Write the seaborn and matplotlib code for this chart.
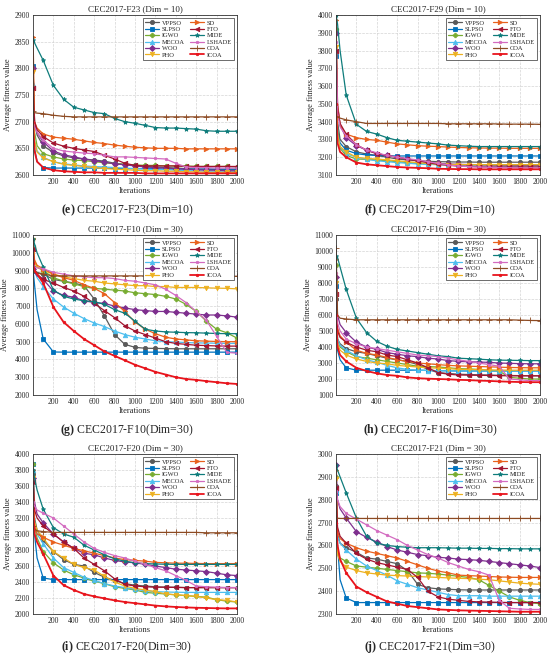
import numpy as np
import pandas as pd
import matplotlib
matplotlib.use("Agg")
import matplotlib.pyplot as plt
import seaborn as sns

# iterations at which the curves are sampled
ITERS = [1, 15, 40] + list(range(100, 2001, 100))

ALGOS = ["VPPSO", "SLPSO", "IGWO", "MECOA", "WOO", "PHO",
         "SD", "FTO", "MIDE", "LSHADE", "COA", "ICOA"]

# rows follow ALGOS order
F23_D10 = [
    [2800, 2700, 2675, 2655, 2642, 2636, 2632, 2630, 2628, 2626, 2622, 2620, 2618, 2616, 2615, 2614, 2613, 2612, 2611, 2611, 2610, 2610, 2610],
    [2805, 2650, 2625, 2614, 2613, 2613, 2613, 2613, 2613, 2613, 2612, 2612, 2612, 2612, 2612, 2611, 2611, 2611, 2611, 2611, 2611, 2611, 2611],
    [2800, 2680, 2655, 2640, 2634, 2630, 2628, 2627, 2625, 2623, 2621, 2620, 2619, 2618, 2618, 2617, 2617, 2617, 2616, 2616, 2616, 2616, 2615],
    [2770, 2665, 2645, 2633, 2625, 2621, 2619, 2617, 2616, 2615, 2614, 2613, 2612, 2611, 2610, 2610, 2609, 2608, 2608, 2607, 2607, 2607, 2606],
    [2800, 2700, 2680, 2662, 2645, 2638, 2634, 2630, 2627, 2624, 2621, 2619, 2617, 2615, 2614, 2613, 2612, 2611, 2610, 2609, 2609, 2608, 2608],
    [2793, 2665, 2643, 2632, 2625, 2620, 2618, 2616, 2614, 2612, 2611, 2610, 2609, 2608, 2608, 2607, 2607, 2606, 2606, 2605, 2605, 2605, 2605],
    [2858, 2700, 2688, 2677, 2671, 2669, 2667, 2664, 2661, 2659, 2656, 2654, 2652, 2651, 2650, 2650, 2650, 2649, 2649, 2649, 2649, 2649, 2649],
    [2763, 2700, 2685, 2672, 2660, 2654, 2650, 2647, 2644, 2637, 2630, 2622, 2618, 2617, 2617, 2617, 2617, 2616, 2616, 2616, 2616, 2616, 2616],
    [2853, 2848, 2838, 2815, 2768, 2742, 2727, 2722, 2717, 2715, 2706, 2700, 2697, 2693, 2689, 2688, 2688, 2687, 2686, 2683, 2682, 2682, 2682],
    [2700, 2690, 2680, 2665, 2650, 2645, 2643, 2641, 2640, 2637, 2634, 2634, 2633, 2632, 2631, 2630, 2622, 2615, 2614, 2614, 2613, 2613, 2613],
    [2720, 2717, 2716, 2715, 2712, 2710, 2709, 2709, 2709, 2709, 2709, 2709, 2709, 2709, 2709, 2709, 2709, 2709, 2709, 2709, 2709, 2709, 2709],
    [2700, 2645, 2625, 2614, 2609, 2607, 2606, 2605, 2605, 2604, 2604, 2604, 2604, 2603, 2603, 2603, 2603, 2603, 2603, 2603, 2603, 2603, 2603],
]

F29_D10 = [
    [3800, 3400, 3300, 3260, 3230, 3218, 3210, 3200, 3190, 3185, 3180, 3177, 3175, 3174, 3173, 3173, 3172, 3172, 3172, 3172, 3172, 3172, 3172],
    [3770, 3350, 3280, 3240, 3220, 3213, 3210, 3208, 3207, 3207, 3207, 3207, 3207, 3207, 3207, 3207, 3207, 3207, 3207, 3207, 3207, 3207, 3207],
    [3920, 3350, 3250, 3210, 3190, 3188, 3185, 3180, 3175, 3170, 3165, 3162, 3160, 3158, 3157, 3156, 3156, 3155, 3155, 3155, 3155, 3155, 3155],
    [3810, 3330, 3260, 3220, 3200, 3188, 3180, 3175, 3170, 3166, 3162, 3160, 3158, 3156, 3155, 3154, 3153, 3152, 3151, 3150, 3150, 3150, 3150],
    [3900, 3500, 3380, 3310, 3265, 3240, 3220, 3210, 3200, 3190, 3180, 3172, 3165, 3162, 3160, 3159, 3158, 3157, 3156, 3156, 3155, 3155, 3155],
    [3820, 3330, 3260, 3230, 3200, 3193, 3190, 3185, 3180, 3175, 3170, 3165, 3160, 3159, 3159, 3158, 3158, 3158, 3158, 3158, 3158, 3158, 3158],
    [3970, 3500, 3380, 3330, 3310, 3300, 3295, 3285, 3275, 3270, 3265, 3262, 3260, 3257, 3255, 3253, 3252, 3251, 3251, 3250, 3250, 3250, 3250],
    [3800, 3480, 3390, 3330, 3270, 3240, 3220, 3210, 3200, 3190, 3180, 3170, 3160, 3155, 3150, 3148, 3146, 3145, 3145, 3145, 3145, 3145, 3145],
    [4000, 3950, 3800, 3550, 3385, 3345, 3330, 3310, 3295, 3290, 3285, 3280, 3275, 3268, 3265, 3262, 3260, 3260, 3260, 3260, 3260, 3260, 3260],
    [3850, 3450, 3370, 3320, 3270, 3240, 3225, 3210, 3200, 3192, 3185, 3175, 3165, 3157, 3150, 3147, 3145, 3143, 3142, 3141, 3140, 3140, 3140],
    [3430, 3425, 3420, 3410, 3400, 3390, 3390, 3390, 3390, 3390, 3390, 3390, 3390, 3388, 3388, 3388, 3388, 3388, 3387, 3386, 3386, 3386, 3385],
    [3500, 3280, 3230, 3200, 3170, 3160, 3155, 3150, 3145, 3142, 3140, 3138, 3135, 3134, 3133, 3133, 3132, 3132, 3132, 3132, 3132, 3132, 3132],
]

F10_D30 = [
    [9200, 9000, 8900, 8800, 8500, 8400, 8300, 8150, 7400, 6450, 5400, 4850, 4680, 4630, 4620, 4610, 4600, 4600, 4600, 4600, 4600, 4600, 4600],
    [9000, 8200, 6800, 5150, 4420, 4410, 4410, 4410, 4410, 4410, 4410, 4410, 4410, 4410, 4410, 4410, 4410, 4410, 4410, 4410, 4410, 4410, 4410],
    [10400, 9500, 9200, 9000, 8600, 8400, 8250, 8100, 8000, 7950, 7900, 7850, 7750, 7700, 7650, 7550, 7400, 7100, 6700, 6150, 5700, 5500, 5200],
    [10500, 9000, 8600, 8100, 7400, 6950, 6600, 6300, 6050, 5850, 5600, 5400, 5250, 5150, 5050, 5000, 4980, 4950, 4930, 4920, 4910, 4900, 4900],
    [9100, 8900, 8700, 8500, 7850, 7600, 7500, 7300, 7200, 7150, 7000, 6900, 6800, 6750, 6700, 6700, 6650, 6600, 6550, 6500, 6500, 6450, 6380],
    [10700, 9500, 9200, 9000, 8800, 8650, 8550, 8450, 8400, 8300, 8250, 8200, 8150, 8150, 8100, 8100, 8050, 8050, 8050, 8030, 8010, 8000, 7970],
    [10800, 9600, 9300, 9100, 8800, 8600, 8450, 8200, 8000, 7700, 7200, 6700, 6100, 5700, 5450, 5250, 5150, 5100, 5050, 5030, 5010, 5000, 5000],
    [10200, 9000, 8800, 8500, 8300, 8050, 7850, 7550, 7150, 6750, 6350, 5900, 5600, 5400, 5200, 5000, 4900, 4850, 4800, 4780, 4760, 4750, 4750],
    [10800, 10500, 10000, 9200, 7900, 7550, 7400, 7300, 7250, 7100, 6800, 6600, 6150, 5700, 5600, 5550, 5530, 5510, 5500, 5480, 5460, 5450, 5450],
    [9300, 9200, 9150, 9100, 8900, 8800, 8700, 8650, 8600, 8600, 8550, 8450, 8400, 8300, 8200, 7950, 7600, 7200, 6700, 6200, 5300, 4400, 4350],
    [9000, 8900, 8850, 8800, 8700, 8700, 8700, 8700, 8700, 8700, 8700, 8700, 8700, 8700, 8700, 8700, 8700, 8700, 8690, 8690, 8680, 8680, 8680],
    [9400, 9000, 8800, 8300, 6950, 6100, 5600, 5150, 4800, 4450, 4200, 3950, 3700, 3500, 3300, 3150, 3000, 2900, 2850, 2780, 2720, 2660, 2620],
]

F16_D30 = [
    [7000, 4500, 4200, 3900, 3700, 3600, 3450, 3300, 3200, 3100, 2900, 2600, 2400, 2350, 2300, 2280, 2260, 2250, 2230, 2220, 2210, 2200, 2200],
    [7800, 3800, 3200, 2700, 2550, 2550, 2550, 2550, 2550, 2550, 2550, 2540, 2520, 2510, 2500, 2500, 2500, 2500, 2500, 2500, 2500, 2500, 2500],
    [9100, 4500, 4000, 3700, 3400, 3300, 3200, 3100, 3000, 2900, 2800, 2780, 2750, 2700, 2650, 2630, 2600, 2550, 2500, 2100, 2050, 2000, 2000],
    [8200, 4500, 4100, 3800, 3450, 3200, 3050, 2850, 2700, 2600, 2550, 2530, 2520, 2510, 2500, 2500, 2500, 2500, 2500, 2500, 2500, 2500, 2500],
    [8400, 6000, 5400, 4900, 4300, 4000, 3850, 3650, 3550, 3450, 3400, 3300, 3250, 3150, 3100, 3080, 3060, 3040, 3000, 2980, 2960, 2950, 2950],
    [8000, 4200, 3800, 3500, 3250, 3100, 3000, 2950, 2850, 2800, 2750, 2700, 2680, 2650, 2600, 2600, 2580, 2570, 2560, 2550, 2550, 2550, 2550],
    [9500, 5200, 4700, 4300, 3800, 3600, 3500, 3350, 3200, 3100, 3000, 2950, 2900, 2850, 2820, 2800, 2780, 2760, 2740, 2720, 2710, 2700, 2700],
    [7300, 5000, 4600, 4300, 4000, 3800, 3700, 3500, 3400, 3200, 3000, 2700, 2400, 2300, 2250, 2240, 2230, 2220, 2210, 2200, 2200, 2200, 2200],
    [9700, 9600, 9000, 7600, 5800, 4900, 4350, 4050, 3850, 3750, 3650, 3550, 3450, 3400, 3300, 3270, 3240, 3200, 3180, 3170, 3160, 3150, 3150],
    [8600, 5500, 5000, 4500, 4200, 4000, 3900, 3800, 3700, 3600, 3500, 3450, 3400, 3300, 3200, 3100, 3000, 2900, 2800, 2000, 1950, 1900, 1900],
    [10200, 6000, 5800, 5750, 5700, 5700, 5700, 5700, 5700, 5700, 5700, 5700, 5700, 5700, 5700, 5700, 5700, 5700, 5700, 5700, 5680, 5660, 5650],
    [6000, 4000, 3500, 3100, 2700, 2500, 2350, 2250, 2200, 2100, 2050, 2020, 2000, 1980, 1950, 1930, 1900, 1880, 1850, 1830, 1810, 1800, 1800],
]

F20_D30 = [
    [3750, 3200, 3050, 2920, 2780, 2680, 2620, 2600, 2520, 2460, 2420, 2380, 2360, 2350, 2340, 2335, 2335, 2330, 2330, 2330, 2330, 2330, 2330],
    [3870, 3000, 2700, 2450, 2430, 2430, 2430, 2430, 2430, 2430, 2430, 2430, 2430, 2430, 2430, 2430, 2430, 2430, 2430, 2430, 2430, 2430, 2430],
    [3880, 3100, 2950, 2780, 2640, 2550, 2490, 2450, 2410, 2380, 2340, 2320, 2300, 2270, 2260, 2250, 2240, 2230, 2220, 2210, 2180, 2160, 2150],
    [3800, 3150, 3000, 2880, 2700, 2580, 2520, 2460, 2420, 2380, 2350, 2330, 2310, 2290, 2280, 2275, 2272, 2270, 2270, 2270, 2270, 2270, 2270],
    [3700, 3400, 3250, 3140, 3000, 2900, 2820, 2760, 2740, 2700, 2670, 2650, 2640, 2620, 2600, 2580, 2560, 2550, 2540, 2530, 2510, 2490, 2480],
    [3700, 3150, 3050, 2950, 2780, 2700, 2620, 2580, 2550, 2470, 2400, 2350, 2320, 2300, 2280, 2250, 2240, 2230, 2220, 2200, 2180, 2170, 2150],
    [3800, 3100, 3000, 2960, 2900, 2860, 2820, 2790, 2760, 2730, 2700, 2680, 2670, 2660, 2645, 2640, 2635, 2635, 2632, 2630, 2630, 2630, 2630],
    [3650, 3300, 3200, 3100, 3000, 2900, 2820, 2700, 2620, 2540, 2440, 2370, 2350, 2340, 2335, 2335, 2332, 2330, 2330, 2330, 2330, 2330, 2330],
    [3800, 3700, 3550, 3310, 3080, 3000, 2960, 2860, 2800, 2740, 2690, 2660, 2640, 2630, 2625, 2622, 2620, 2620, 2620, 2620, 2620, 2620, 2620],
    [3400, 3350, 3300, 3260, 3200, 3100, 3000, 2900, 2820, 2770, 2730, 2700, 2660, 2620, 2580, 2540, 2480, 2420, 2350, 2340, 2335, 2330, 2330],
    [3100, 3060, 3040, 3030, 3020, 3020, 3020, 3020, 3020, 3020, 3020, 3020, 3020, 3020, 3020, 3020, 3020, 3020, 3020, 3015, 3015, 3015, 3015],
    [3300, 3000, 2900, 2750, 2480, 2360, 2300, 2250, 2220, 2195, 2170, 2150, 2135, 2120, 2105, 2095, 2088, 2082, 2078, 2075, 2072, 2070, 2070],
]

F21_D30 = [
    [2860, 2650, 2610, 2590, 2570, 2545, 2540, 2530, 2520, 2490, 2430, 2415, 2410, 2408, 2406, 2405, 2405, 2405, 2405, 2405, 2405, 2405, 2405],
    [2830, 2600, 2450, 2370, 2350, 2350, 2350, 2350, 2350, 2350, 2350, 2350, 2350, 2350, 2350, 2350, 2350, 2350, 2350, 2350, 2350, 2350, 2350],
    [2900, 2570, 2545, 2530, 2510, 2505, 2500, 2495, 2490, 2485, 2480, 2478, 2475, 2470, 2465, 2460, 2450, 2425, 2400, 2375, 2360, 2350, 2345],
    [2840, 2640, 2610, 2580, 2540, 2510, 2490, 2470, 2445, 2430, 2415, 2405, 2395, 2385, 2380, 2380, 2380, 2378, 2378, 2378, 2378, 2378, 2378],
    [2950, 2800, 2760, 2720, 2660, 2635, 2615, 2595, 2580, 2570, 2560, 2555, 2548, 2545, 2540, 2538, 2535, 2530, 2525, 2520, 2515, 2510, 2503],
    [2890, 2560, 2530, 2505, 2490, 2480, 2475, 2470, 2468, 2466, 2464, 2462, 2460, 2458, 2456, 2455, 2452, 2450, 2445, 2440, 2435, 2432, 2430],
    [2930, 2660, 2630, 2610, 2590, 2575, 2565, 2555, 2545, 2530, 2515, 2500, 2488, 2480, 2470, 2468, 2466, 2464, 2462, 2461, 2460, 2460, 2460],
    [2850, 2680, 2640, 2610, 2565, 2540, 2525, 2515, 2505, 2495, 2460, 2400, 2375, 2365, 2360, 2355, 2353, 2352, 2351, 2350, 2350, 2350, 2350],
    [2950, 2930, 2900, 2830, 2720, 2640, 2610, 2600, 2595, 2592, 2590, 2590, 2590, 2589, 2588, 2588, 2587, 2587, 2586, 2586, 2585, 2585, 2585],
    [2840, 2800, 2770, 2740, 2715, 2690, 2665, 2645, 2625, 2600, 2580, 2560, 2545, 2525, 2510, 2495, 2485, 2470, 2360, 2325, 2322, 2320, 2320],
    [2720, 2719, 2718, 2718, 2718, 2718, 2718, 2718, 2718, 2718, 2718, 2718, 2718, 2718, 2718, 2718, 2718, 2718, 2718, 2718, 2718, 2718, 2718],
    [2700, 2600, 2540, 2480, 2420, 2395, 2375, 2355, 2345, 2335, 2330, 2325, 2320, 2318, 2316, 2315, 2314, 2313, 2312, 2311, 2310, 2310, 2310],
]

COLORS = ["#5a5a5a", "#0072bd", "#77ac30", "#4dbeee", "#7e2f8e", "#edb120",
          "#e8601c", "#a2142f", "#0e7c7b", "#d36bc0", "#8c4a22", "#e8141c"]
MARKERS = ["o", "s", "P", "^", "D", "v", ">", "<", "*", ".", "+", "."]
SIZES = [3.0, 3.0, 3.2, 3.2, 3.0, 3.2, 3.2, 3.2, 3.2, 3.5, 4.0, 3.5]

sns.set_style("whitegrid", {"grid.linestyle": "--", "grid.color": "#d4d4d4",
                            "axes.edgecolor": "#333333"})
plt.rcParams["font.family"] = ["Liberation Serif", "DejaVu Serif"]
plt.rcParams["mathtext.fontset"] = "custom"
plt.rcParams["mathtext.rm"] = "Liberation Serif"
plt.rcParams["mathtext.bf"] = "Liberation Serif:bold"

panels = [
    (F23_D10, "CEC2017-F23 (Dim = 10)", "(e)", "CEC2017-F23(Dim=10)", (2600, 2900), 50),
    (F29_D10, "CEC2017-F29 (Dim = 10)", "(f)", "CEC2017-F29(Dim=10)", (3100, 4000), 100),
    (F10_D30, "CEC2017-F10 (Dim = 30)", "(g)", "CEC2017-F10(Dim=30)", (2000, 11000), 1000),
    (F16_D30, "CEC2017-F16 (Dim = 30)", "(h)", "CEC2017-F16(Dim=30)", (1000, 11000), 1000),
    (F20_D30, "CEC2017-F20 (Dim = 30)", "(i)", "CEC2017-F20(Dim=30)", (2000, 4000), 200),
    (F21_D30, "CEC2017-F21 (Dim = 30)", "(j)", "CEC2017-F21(Dim=30)", (2300, 3000), 100),
]

W, H = 550, 658
fig = plt.figure(figsize=(W / 100, H / 100), dpi=100)

lefts = [33, 336]
tops = [15, 235, 454]
caption_y = [210, 430, 647]
ax_w, ax_h = 204, 160
mark_idx = [0] + list(range(3, len(ITERS)))

for k, (data, title, tag, caption, ylim, ystep) in enumerate(panels):
    r, c = divmod(k, 2)
    rect = [lefts[c] / W, 1 - (tops[r] + ax_h) / H, ax_w / W, ax_h / H]
    ax = fig.add_axes(rect)
    for name, vals, col, mk, ms in zip(ALGOS, data, COLORS, MARKERS, SIZES):
        lw = 1.3 if name == "ICOA" else 0.9
        sns.lineplot(x=ITERS, y=vals, ax=ax, color=col, marker=mk, markevery=mark_idx,
                     markersize=ms, linewidth=lw, label=name, markeredgewidth=0.6,
                     markeredgecolor=col)
    ax.set_xlim(0, 2000)
    ax.set_ylim(*ylim)
    ax.set_xticks(range(200, 2001, 200))
    ax.set_yticks(np.arange(ylim[0], ylim[1] + 1, ystep))
    ax.tick_params(labelsize=5.5, direction="in", length=2, pad=2, width=0.5)
    ax.set_title(title, fontsize=6.5, pad=3)
    ax.set_xlabel("Iterations", fontsize=6, labelpad=1)
    ax.set_ylabel("Average fitness value", fontsize=6, labelpad=2)
    for s in ax.spines.values():
        s.set_linewidth(0.6)
    ax.grid(True, linewidth=0.5)
    leg = ax.legend(ncol=2, loc="upper right", fontsize=4.6, frameon=True, fancybox=False,
                    edgecolor="#333333", framealpha=1, handlelength=2.2, labelspacing=0.15,
                    columnspacing=0.8, handletextpad=0.4, borderpad=0.4, borderaxespad=0.4)
    leg.get_frame().set_linewidth(0.5)
    cx = (lefts[c] + ax_w / 2 - 8) / W
    fig.text(cx, 1 - caption_y[r] / H, r"$\mathbf{" + tag + "}$ " + caption,
             ha="center", va="center", fontsize=8.5)

fig.savefig("out.png", dpi=100)
